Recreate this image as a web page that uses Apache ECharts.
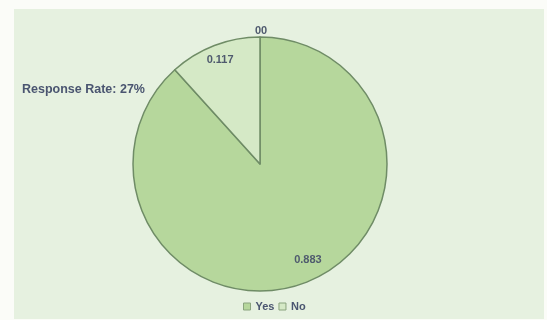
<!DOCTYPE html>
<html>
<head>
<meta charset="utf-8">
<script src="https://cdn.jsdelivr.net/npm/echarts@6/dist/echarts.min.js"></script>
<style>
  html, body { margin: 0; padding: 0; background: #fbfcf8; }
  #chart { width: 547px; height: 320px; }
</style>
</head>
<body>
<div id="chart"></div>
<script>
// Survey answers, shown as shares of all responses
const categories = ['Yes', 'No'];
const shares = [0.883, 0.117];
const sliceColors = ['#b6d79c', '#d5e9c6'];
const labelOffsets = [[24, 34], [-16, -42]];
const topLabel = '00';
const sideLabel = 'Response Rate: 27%';

const chart = echarts.init(document.getElementById('chart'));

chart.setOption({
  animation: false,
  backgroundColor: '#fbfcf8',
  textStyle: { fontFamily: 'Liberation Sans, Arial, sans-serif' },
  graphic: [
    {
      type: 'rect',
      z: -10,
      shape: { x: 14, y: 9, width: 530, height: 310 },
      style: { fill: '#e6f1e0' }
    },
    {
      type: 'text',
      left: 255, top: 25,
      style: { text: topLabel, fill: '#4f5a6e', font: 'bold 11px Liberation Sans, Arial, sans-serif' }
    },
    {
      type: 'text',
      left: 22, top: 83,
      style: { text: sideLabel, fill: '#4a5570', font: 'bold 12.5px Liberation Sans, Arial, sans-serif' }
    }
  ],
  legend: {
    data: categories,
    left: 238,
    bottom: 3,
    icon: 'rect',
    itemWidth: 7,
    itemHeight: 7,
    itemGap: 4,
    itemStyle: { borderColor: '#8aa47e', borderWidth: 1 },
    textStyle: { color: '#4a5570', fontWeight: 'bold', fontSize: 11 }
  },
  series: [{
    type: 'pie',
    center: [260, 164],
    radius: 127,
    startAngle: 90,
    clockwise: true,
    label: {
      show: true,
      position: 'inside',
      color: '#4f5a6e',
      fontWeight: 'bold',
      fontSize: 11,
      formatter: p => String(p.value)
    },
    labelLine: { show: false },
    itemStyle: { borderColor: '#6f8c66', borderWidth: 1.5 },
    emphasis: { disabled: true },
    data: categories.map((name, i) => ({
      name,
      value: shares[i],
      itemStyle: { color: sliceColors[i] },
      label: { offset: labelOffsets[i] }
    }))
  }]
});
</script>
</body>
</html>
